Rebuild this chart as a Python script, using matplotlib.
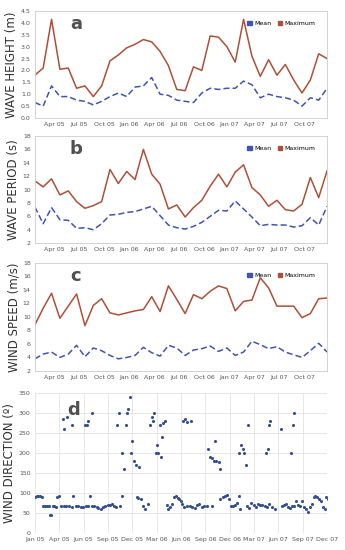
import numpy as np
import matplotlib.pyplot as plt

# monthly series, Jan 05 .. Dec 07
height_max = [1.8, 2.1, 4.15, 2.05, 2.1, 1.25, 1.35, 0.9, 1.35, 2.4, 2.65, 2.95, 3.1, 3.3, 3.2, 2.8, 2.2, 1.2,
              1.15, 2.15, 2.0, 3.45, 3.4, 3.0, 2.35, 4.15, 2.6, 1.75, 2.45, 1.8, 2.25, 1.6, 1.05, 1.6, 2.7, 2.5]
height_mean = [0.65, 0.5, 1.35, 0.9, 0.9, 0.75, 0.7, 0.55, 0.7, 0.9, 1.05, 0.9, 1.3, 1.35, 1.7, 1.0, 0.95, 0.75,
               0.7, 0.65, 1.05, 1.25, 1.2, 1.25, 1.25, 1.55, 1.4, 0.85, 1.0, 0.9, 0.85, 0.75, 0.5, 0.85, 0.75, 1.25]
period_max = [11.3, 10.4, 11.6, 9.2, 9.8, 8.2, 7.2, 7.6, 8.2, 13.0, 10.9, 12.7, 11.5, 16.0, 12.3, 10.8, 7.1, 7.7,
              5.9, 7.3, 8.4, 10.5, 12.3, 10.4, 12.6, 13.7, 10.3, 9.2, 7.5, 8.4, 7.0, 6.8, 7.8, 11.8, 8.8, 12.8]
period_mean = [7.4, 4.9, 7.3, 5.5, 5.4, 4.2, 4.3, 4.0, 4.9, 6.2, 6.3, 6.6, 6.7, 7.1, 7.5, 6.1, 4.7, 4.3,
               4.1, 4.5, 5.1, 6.0, 6.9, 6.8, 8.3, 7.1, 5.9, 4.6, 4.8, 4.7, 4.7, 4.4, 4.6, 5.8, 4.7, 7.5]
speed_max = [8.8, 11.3, 13.5, 9.8, 11.6, 13.4, 8.7, 11.7, 12.7, 10.6, 10.3, 10.6, 10.9, 11.1, 13.0, 10.8, 14.6, 12.6,
             10.5, 13.3, 12.7, 13.8, 14.6, 14.2, 10.9, 12.3, 12.5, 15.8, 14.3, 11.6, 11.6, 11.6, 9.9, 10.5, 12.7, 12.8]
speed_mean = [3.8, 4.5, 4.8, 4.0, 4.5, 5.8, 4.1, 5.4, 5.0, 4.3, 3.8, 4.0, 4.3, 5.5, 4.7, 4.2, 5.8, 5.4,
              4.3, 5.1, 5.3, 5.7, 4.9, 5.4, 4.3, 4.8, 6.4, 5.9, 5.3, 5.6, 4.8, 4.4, 4.0, 5.0, 6.1, 4.8]
month_ticks = ['Apr 05', 'Jul 05', 'Oct 05', 'Jan 06', 'Apr 06', 'Jul 06', 'Oct 06',
               'Jan 07', 'Apr 07', 'Jul 07', 'Oct 07']

# wind direction samples, x read as position along the date axis (0 = Jan 05, 12 = Dec 07)
dir_ticks = ['Jan 05', 'Apr 05', 'Jun 05', 'Sep 05', 'Dec 05', 'Mar 06', 'Jun 06', 'Sep 06',
             'Dec 06', 'Mar 07', 'Jun 07', 'Sep 07', 'Dec 07']
low_pos = [100, 105, 110, 115, 120, 124, 130, 136, 141, 144,
           149, 153, 158, 163, 167, 172, 178, 186, 194, 202,
           210, 215, 222, 230, 238, 245, 252, 258, 265, 270,
           278, 285, 290, 298, 305, 310, 318, 325, 330, 338,
           342, 355, 360, 405, 410, 418, 425, 430, 438, 495,
           500, 505, 512, 518, 522, 528, 533, 538, 542, 548,
           555, 563, 570, 578, 585, 592, 600, 607, 614, 630,
           655, 662, 668, 675, 680, 686, 692, 700, 706, 710,
           715, 735, 742, 748, 755, 762, 768, 775, 780, 788,
           795, 802, 810, 818, 840, 846, 852, 858, 864, 870,
           876, 882, 888, 894, 900, 906, 912, 918, 924, 930,
           935, 940, 946, 952, 958, 963, 968, 973, 978, 985]
low_deg = [90, 92, 93, 92, 90, 67, 68, 67, 68, 45,
           45, 67, 67, 66, 90, 92, 67, 68, 67, 68,
           66, 92, 67, 68, 66, 65, 67, 68, 92, 68,
           67, 65, 62, 60, 65, 68, 70, 70, 72, 68,
           65, 68, 92, 90, 88, 86, 68, 60, 72, 70,
           60, 65, 72, 90, 92, 88, 85, 80, 72, 65,
           68, 68, 65, 62, 70, 72, 65, 67, 68, 68,
           85, 90, 92, 95, 85, 68, 67, 70, 75, 92,
           60, 68, 62, 75, 70, 65, 72, 70, 70, 68,
           65, 72, 65, 60, 68, 70, 72, 65, 62, 68,
           67, 80, 70, 68, 80, 65, 60, 52, 65, 72,
           90, 92, 90, 85, 80, 65, 60, 90, 85, 92]
high_pos = [185, 188, 197, 212, 250, 255, 260, 272, 345, 352,
            362, 368, 372, 375, 380, 385, 388, 392, 397, 402,
            413, 445, 450, 455, 458, 462, 465, 470, 475, 478,
            482, 485, 490, 545, 550, 555, 568, 618, 625, 630,
            635, 640, 643, 650, 655, 712, 718, 722, 725, 732,
            737, 793, 798, 800, 805, 838, 868, 872, 875]
high_deg = [285, 260, 290, 270, 270, 270, 280, 300, 270, 300,
            200, 160, 270, 300, 310, 340, 200, 230, 180, 170,
            165, 270, 290, 280, 300, 200, 220, 200, 270, 190,
            240, 275, 280, 280, 285, 278, 280, 210, 190, 188,
            180, 230, 180, 178, 160, 200, 220, 210, 200, 170,
            270, 200, 210, 270, 280, 260, 200, 270, 300]

dir_x = (np.array(low_pos + high_pos) - 100) / 72.9
dir_y = np.array(low_deg + high_deg)

max_color = '#ad5038'
mean_color = '#4055b0'
tick_color = '#555555'
spine_color = '#cccccc'

fig = plt.figure(figsize=(3.45, 5.5), dpi=100)
left, width = 0.101, 0.847
boxes = [(0.7855, 0.1945), (0.558, 0.1947), (0.3255, 0.1965)]
series = [(height_mean, height_max, 'WAVE HEIGHT (m)', 'a', (0, 4.5), np.arange(0, 4.51, 0.5), '%.1f'),
          (period_mean, period_max, 'WAVE PERIOD (s)', 'b', (2, 18), np.arange(2, 19, 2), '%d'),
          (speed_mean, speed_max, 'WIND SPEED (m/s)', 'c', (2, 18), np.arange(2, 19, 2), '%d')]

x = np.arange(len(height_max))
for (bottom, h), (mean, mx, ylabel, letter, ylim, yt, fmt) in zip(boxes, series):
    ax = fig.add_axes([left, bottom, width, h])
    ax.plot(x, mean, color=mean_color, lw=1.1, ls=(0, (4, 2)), label='Mean')
    ax.plot(x, mx, color=max_color, lw=1.1, label='Maximum')
    ax.set_xlim(0, 35)
    ax.set_ylim(*ylim)
    ax.set_yticks(yt)
    ax.set_yticklabels([fmt % v for v in yt])
    ax.set_xticks(np.arange(len(month_ticks)) * 3 + 2.3)
    ax.set_xticklabels(month_ticks)
    ax.tick_params(labelsize=4.5, colors=tick_color, length=0, pad=3)
    for s in ax.spines.values():
        s.set_color(spine_color)
        s.set_linewidth(0.6)
    ax.set_ylabel(ylabel, fontsize=8.5, color='#333333', labelpad=2)
    ax.text(0.12, 0.88, letter, transform=ax.transAxes, fontsize=13, fontweight='bold',
            color='#505050', va='center')
    h1 = plt.Rectangle((0, 0), 1, 1, color=mean_color)
    h2 = plt.Rectangle((0, 0), 1, 1, color=max_color)
    ax.legend([h1, h2], ['Mean', 'Maximum'], loc='upper right', ncol=2, fontsize=4.5,
              frameon=False, handlelength=0.7, handleheight=0.7, columnspacing=1.0,
              handletextpad=0.4, bbox_to_anchor=(0.98, 0.96))

ax = fig.add_axes([left, 0.031, width, 0.2545])
ax.scatter(dir_x, dir_y, s=5, color='#34508f', zorder=3, linewidths=0)
ax.set_xlim(0, 12)
ax.set_ylim(0, 350)
ax.set_yticks(np.arange(0, 351, 50))
ax.set_xticks(np.arange(len(dir_ticks)))
ax.set_xticklabels(dir_ticks)
ax.grid(True, color='#e3e3e3', lw=0.6)
ax.set_axisbelow(True)
ax.tick_params(labelsize=4.5, colors=tick_color, length=0, pad=3)
for s in ax.spines.values():
    s.set_visible(False)
ax.set_ylabel('WIND DIRECTION (º)', fontsize=8.5, color='#333333', labelpad=2)
ax.text(0.11, 0.88, 'd', transform=ax.transAxes, fontsize=13, fontweight='bold',
        color='#505050', va='center')

fig.savefig('out.png', dpi=100)
